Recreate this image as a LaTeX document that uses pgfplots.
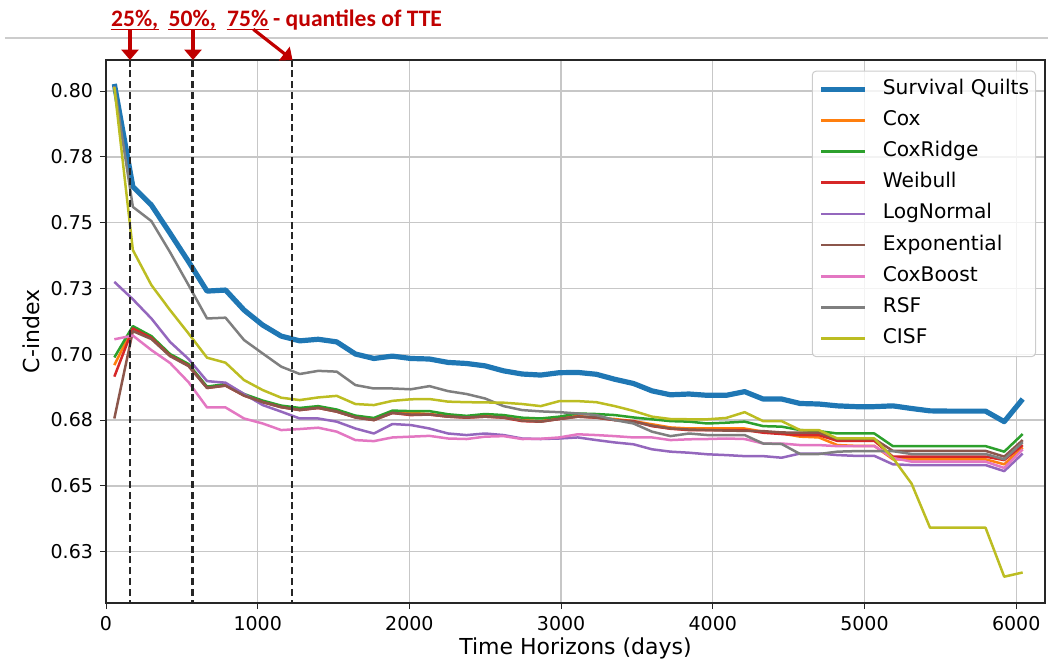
\documentclass[border=0pt]{standalone}
\usepackage{pgfplots}
\pgfplotsset{compat=1.18}
\usepackage{pgfplotstable}
\usepackage{fontspec}
\setmainfont{DejaVu Sans}
\newfontfamily\calibri{Carlito}
\usetikzlibrary{arrows.meta}
\definecolor{c0}{HTML}{1F77B4}
\definecolor{c1}{HTML}{FF7F0E}
\definecolor{c2}{HTML}{2CA02C}
\definecolor{c3}{HTML}{D62728}
\definecolor{c4}{HTML}{9467BD}
\definecolor{c5}{HTML}{8C564B}
\definecolor{c6}{HTML}{E377C2}
\definecolor{c7}{HTML}{7F7F7F}
\definecolor{c8}{HTML}{BCBD22}
\definecolor{ann}{HTML}{C00000}

\pgfplotstableread{
x    sq     cox    ridge  weib   logn   expo   boost  rsf    cisf
55   0.8027 0.6959 0.6988 0.6915 0.7275 0.6756 0.7057 0.8019 0.8015
177  0.7637 0.7100 0.7107 0.7098 0.7209 0.7088 0.7071 0.7560 0.7396
299  0.7567 0.7063 0.7069 0.7062 0.7136 0.7058 0.7016 0.7506 0.7263
422  0.7460 0.6997 0.7001 0.6995 0.7047 0.6993 0.6967 0.7388 0.7168
544  0.7352 0.6959 0.6963 0.6957 0.6982 0.6955 0.6894 0.7263 0.7079
666  0.7240 0.6874 0.6877 0.6872 0.6898 0.6872 0.6798 0.7136 0.6987
788  0.7244 0.6883 0.6887 0.6881 0.6892 0.6881 0.6798 0.7139 0.6968
910  0.7168 0.6845 0.6849 0.6843 0.6849 0.6843 0.6756 0.7054 0.6902
1033 0.7111 0.6820 0.6824 0.6818 0.6807 0.6818 0.6737 0.7003 0.6864
1155 0.7069 0.6801 0.6805 0.6799 0.6782 0.6799 0.6712 0.6953 0.6835
1277 0.7051 0.6791 0.6796 0.6788 0.6756 0.6788 0.6716 0.6925 0.6826
1399 0.7057 0.6798 0.6803 0.6796 0.6756 0.6796 0.6721 0.6937 0.6836
1521 0.7047 0.6785 0.6790 0.6782 0.6744 0.6782 0.6706 0.6934 0.6842
1644 0.7001 0.6763 0.6767 0.6760 0.6718 0.6760 0.6674 0.6883 0.6811
1766 0.6984 0.6753 0.6758 0.6750 0.6699 0.6750 0.6670 0.6870 0.6807
1888 0.6993 0.6780 0.6786 0.6777 0.6735 0.6777 0.6684 0.6870 0.6823
2010 0.6984 0.6777 0.6784 0.6769 0.6731 0.6771 0.6687 0.6867 0.6829
2132 0.6982 0.6773 0.6784 0.6771 0.6718 0.6771 0.6690 0.6879 0.6830
2255 0.6969 0.6765 0.6772 0.6763 0.6699 0.6763 0.6680 0.6860 0.6820
2377 0.6965 0.6761 0.6766 0.6759 0.6693 0.6760 0.6678 0.6849 0.6818
2499 0.6956 0.6765 0.6773 0.6763 0.6699 0.6763 0.6687 0.6832 0.6817
2621 0.6937 0.6761 0.6769 0.6759 0.6693 0.6760 0.6689 0.6803 0.6816
2743 0.6925 0.6750 0.6759 0.6746 0.6680 0.6748 0.6678 0.6788 0.6811
2866 0.6921 0.6746 0.6756 0.6744 0.6678 0.6744 0.6679 0.6783 0.6803
2988 0.6930 0.6759 0.6763 0.6754 0.6680 0.6754 0.6684 0.6780 0.6822
3110 0.6931 0.6765 0.6775 0.6763 0.6684 0.6763 0.6696 0.6775 0.6822
3232 0.6924 0.6760 0.6773 0.6759 0.6674 0.6760 0.6693 0.6769 0.6818
3354 0.6905 0.6754 0.6769 0.6750 0.6665 0.6750 0.6689 0.6750 0.6803
3477 0.6889 0.6746 0.6760 0.6746 0.6658 0.6744 0.6684 0.6737 0.6785
3599 0.6861 0.6734 0.6753 0.6727 0.6639 0.6729 0.6684 0.6706 0.6763
3721 0.6846 0.6722 0.6746 0.6717 0.6630 0.6718 0.6674 0.6689 0.6754
3843 0.6849 0.6718 0.6744 0.6712 0.6626 0.6714 0.6677 0.6699 0.6753
3965 0.6844 0.6718 0.6737 0.6712 0.6620 0.6712 0.6678 0.6693 0.6753
4088 0.6844 0.6718 0.6740 0.6712 0.6617 0.6710 0.6680 0.6693 0.6758
4210 0.6858 0.6718 0.6744 0.6712 0.6613 0.6709 0.6678 0.6693 0.6780
4332 0.6830 0.6706 0.6727 0.6702 0.6613 0.6708 0.6661 0.6661 0.6746
4454 0.6830 0.6699 0.6725 0.6697 0.6607 0.6703 0.6661 0.6659 0.6746
4576 0.6813 0.6687 0.6712 0.6693 0.6623 0.6702 0.6655 0.6621 0.6712
4699 0.6811 0.6684 0.6708 0.6693 0.6623 0.6702 0.6655 0.6621 0.6712
4821 0.6804 0.6655 0.6699 0.6671 0.6617 0.6678 0.6651 0.6630 0.6680
4943 0.6801 0.6652 0.6699 0.6671 0.6614 0.6678 0.6651 0.6632 0.6680
5065 0.6801 0.6652 0.6699 0.6671 0.6614 0.6678 0.6651 0.6632 0.6680
5187 0.6804 0.6601 0.6651 0.6611 0.6582 0.6633 0.6606 0.6632 0.6606
5310 0.6794 0.6601 0.6651 0.6611 0.6579 0.6633 0.6592 0.6621 0.6509
5432 0.6785 0.6601 0.6651 0.6611 0.6579 0.6633 0.6592 0.6621 0.6341
5554 0.6784 0.6601 0.6651 0.6611 0.6579 0.6633 0.6592 0.6621 0.6341
5676 0.6784 0.6601 0.6651 0.6611 0.6579 0.6633 0.6592 0.6621 0.6341
5798 0.6784 0.6601 0.6651 0.6611 0.6579 0.6633 0.6592 0.6621 0.6341
5921 0.6744 0.6582 0.6630 0.6598 0.6556 0.6611 0.6568 0.6601 0.6155
6043 0.6830 0.6646 0.6697 0.6655 0.6623 0.6674 0.6639 0.6666 0.6171
}\data

\begin{document}
\begin{tikzpicture}
\useasboundingbox (-53pt,-31pt) rectangle (471pt,301.5pt);
\begin{axis}[
  at={(0pt,0pt)}, anchor=south west,
  width=469.5pt, height=271.5pt, scale only axis,
  xmin=0, xmax=6190, ymin=0.6055, ymax=0.8118,
  xtick={0,1000,2000,3000,4000,5000,6000},
  xticklabels={0,1000,2000,3000,4000,5000,6000},
  ytick={0.625,0.65,0.675,0.7,0.725,0.75,0.775,0.8},
  yticklabels={0.63,0.65,0.68,0.70,0.73,0.75,0.78,0.80},
  xtick pos=bottom, ytick pos=left,
  tick align=outside, major tick length=3pt,
  tick style={black!85, line width=0.5pt},
  grid=major, major grid style={black!22, line width=0.65pt},
  axis line style={black!85, line width=0.6pt},
  ticklabel style={font=\fontsize{9.5}{11}\selectfont},
  xlabel={Time Horizons (days)}, ylabel={C-index},
  label style={font=\fontsize{11}{13}\selectfont},
  xlabel style={at={(axis description cs:0.5,-0.083)}, anchor=center},
  ylabel style={at={(axis description cs:-0.08,0.5)}, anchor=center},
  legend cell align=left,
  legend image code/.code={\draw[#1] (0pt,0pt) -- (22pt,0pt);},
  legend style={
    at={(1,1)}, anchor=north east, xshift=-4.5pt, yshift=-5.3pt,
    draw=black!20, line width=0.5pt, rounded corners=2pt,
    fill=white, fill opacity=0.8, text opacity=1,
    font=\fontsize{10.1}{12}\selectfont,
    inner xsep=3.2pt, inner ysep=4pt,
    row sep=5.6pt,
    nodes={inner sep=0pt, text height=7.5pt, text depth=2.5pt},
    /tikz/every odd column/.append style={column sep=7.5pt},
  },
  every axis plot/.append style={line width=1.25pt, line join=round},
]
\addplot[c0, line width=2.6pt] table[x=x,y=sq] {\data};
\addlegendentry{Survival Quilts}
\addplot[c1] table[x=x,y=cox] {\data};
\addlegendentry{Cox}
\addplot[c2] table[x=x,y=ridge] {\data};
\addlegendentry{CoxRidge}
\addplot[c3] table[x=x,y=weib] {\data};
\addlegendentry{Weibull}
\addplot[c4] table[x=x,y=logn] {\data};
\addlegendentry{LogNormal}
\addplot[c5] table[x=x,y=expo] {\data};
\addlegendentry{Exponential}
\addplot[c6] table[x=x,y=boost] {\data};
\addlegendentry{CoxBoost}
\addplot[c7] table[x=x,y=rsf] {\data};
\addlegendentry{RSF}
\addplot[c8] table[x=x,y=cisf] {\data};
\addlegendentry{CISF}
\addplot[forget plot, black!85, line width=1.3pt, dash pattern=on 3.5pt off 1.9pt] coordinates {(158,0.6) (158,0.82)};
\addplot[forget plot, black!85, line width=1.3pt, dash pattern=on 3.5pt off 1.9pt] coordinates {(570,0.6) (570,0.82)};
\addplot[forget plot, black!85, line width=1.3pt, dash pattern=on 3.5pt off 1.9pt] coordinates {(1226,0.6) (1226,0.82)};
\end{axis}
% slide separator line
\draw[black!20, line width=0.6pt] (-50.5pt,282.5pt) -- (471pt,282.5pt);
% annotation
\begin{scope}[every node/.style={anchor=base west, inner sep=0pt, text=ann, font=\calibri\bfseries\fontsize{11.8}{13}\selectfont}]
\node (q1) at (2.35pt,288.15pt) {25\%,};
\node (q2) at (31.15pt,288.15pt) {50\%,};
\node (q3) at (60.35pt,288.15pt) {75\%};
\node (q4) at (83.35pt,288.15pt) {- quantiles of TTE};
\end{scope}
\foreach \n in {q1,q2,q3}{
  \draw[ann, line width=0.75pt] ([yshift=-1.4pt]\n.base west) -- ([yshift=-1.4pt]\n.base east);
}
\draw[ann, line width=1.6pt, -{Triangle[width=8.5pt,length=5.2pt]}] (12pt,286.75pt) -- (12pt,271.5pt);
\draw[ann, line width=1.6pt, -{Triangle[width=8.5pt,length=5.2pt]}] (43.5pt,286.75pt) -- (43.5pt,271.5pt);
\draw[ann, line width=1.6pt, -{Triangle[width=8.5pt,length=5.2pt]}] (73.65pt,286.85pt) -- (93.25pt,271.5pt);
\end{tikzpicture}
\end{document}
